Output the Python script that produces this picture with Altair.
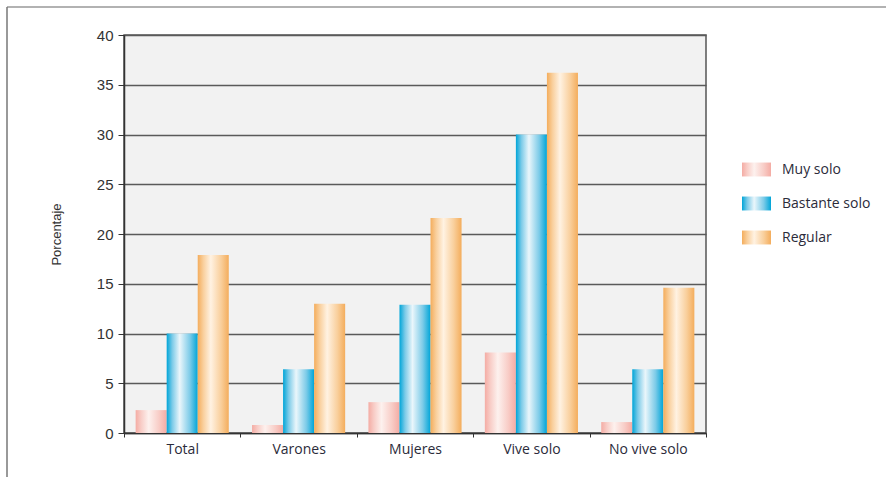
import altair as alt
import pandas as pd

categories = ["Total", "Varones", "Mujeres", "Vive solo", "No vive solo"]
series = ["Muy solo", "Bastante solo", "Regular"]
muy_solo = [2.3, 0.8, 3.1, 8.1, 1.1]
bastante_solo = [10.0, 6.4, 12.9, 30.0, 6.4]
regular = [17.9, 13.0, 21.6, 36.2, 14.6]
y_ticks = [0, 5, 10, 15, 20, 25, 30, 35, 40]

rows = []
for name, vals in zip(series, [muy_solo, bastante_solo, regular]):
    for c, v in zip(categories, vals):
        rows.append({"grupo": c, "serie": name, "valor": v})
df = pd.DataFrame(rows)


def grad(dark, mid, light):
    return ("{gradient: 'linear', x1: 0, y1: 0, x2: 1, y2: 0, stops: ["
            f"{{offset: 0, color: '{dark}'}}, {{offset: 0.18, color: '{mid}'}}, "
            f"{{offset: 0.42, color: '{light}'}}, {{offset: 0.75, color: '{mid}'}}, "
            f"{{offset: 1, color: '{dark}'}}]}}")


fill_range = [
    {"expr": grad("#f4aca4", "#f8cdc7", "#fdf1ee")},
    {"expr": grad("#00a5d8", "#7ccbe8", "#eaf6fb")},
    {"expr": grad("#f4ad5c", "#f9cf9c", "#fff2e2")},
]

bars = alt.Chart(df).mark_bar().encode(
    x=alt.X("grupo:N", sort=categories,
            scale=alt.Scale(paddingInner=0, paddingOuter=0),
            axis=alt.Axis(title=None, tickBand="extent", labelAngle=0,
                          labelFont="Open Sans", labelFontSize=14,
                          labelColor="#2b2b3a", tickSize=4, tickColor="#333",
                          labelPadding=5, domainColor="#333", domainWidth=1.5,
                          grid=False)),
    xOffset=alt.XOffset("serie:N", sort=series,
                        scale=alt.Scale(domain=series, paddingInner=0,
                                        paddingOuter=0.375)),
    y=alt.Y("valor:Q",
            scale=alt.Scale(domain=[0, 40], nice=False),
            axis=alt.Axis(title="Porcentaje", values=y_ticks,
                          labelFont="Liberation Sans", labelFontSize=15,
                          labelColor="#333", tickSize=6, tickColor="#333",
                          labelPadding=5, domainColor="#333", domainWidth=1.5,
                          grid=True, gridColor="#5a5a5a", gridWidth=1.3,
                          titleFont="Liberation Sans", titleFontSize=13,
                          titleFontWeight="normal", titleColor="#333",
                          titleX=-61)),
    fill=alt.Fill("serie:N", sort=series,
                  scale=alt.Scale(domain=series, range=fill_range),
                  legend=alt.Legend(title=None, orient="none", legendX=618,
                                    legendY=120, padding=0,
                                    symbolType="M-1,-0.48H1V0.48H-1Z",
                                    symbolSize=841, symbolStrokeWidth=0,
                                    labelFont="Open Sans", labelFontSize=14,
                                    labelColor="#2b2b3a", labelOffset=11,
                                    rowPadding=12)),
)

base = alt.Chart(pd.DataFrame({"k": [0]}))
frame_top = base.mark_rule(color="#999", strokeWidth=1.5).encode(
    x=alt.value(-117), x2=alt.value(762), y=alt.value(-28))
frame_left = base.mark_rule(color="#777", strokeWidth=1.5).encode(
    x=alt.value(-117), y=alt.value(-28), y2=alt.value(442))

chart = alt.layer(bars, frame_top, frame_left).properties(
    width=582, height=398,
    autosize=alt.AutoSizeParams(type="none"),
    padding={"left": 124, "top": 35, "right": 180, "bottom": 44},
    background="white",
).configure_view(fill="#f2f2f2", stroke="#555", strokeWidth=1.5)

chart.save("out.html", embed_options={"renderer": "svg", "actions": False})
